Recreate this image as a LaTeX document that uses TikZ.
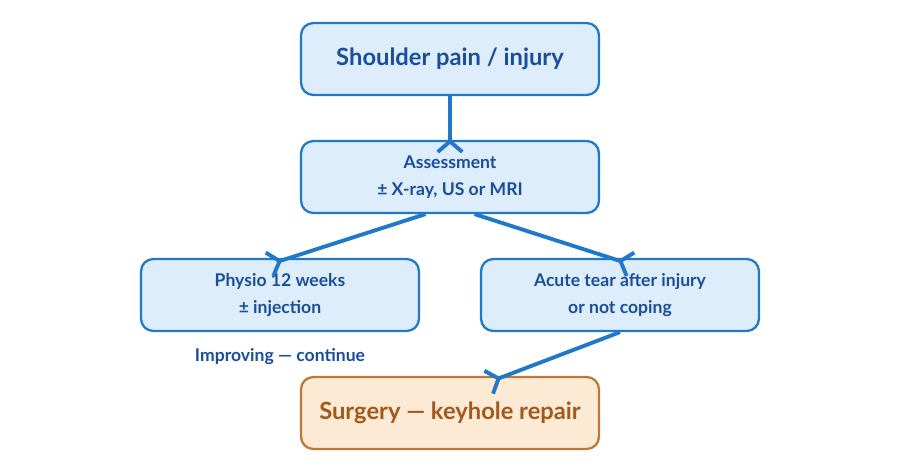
\documentclass[tikz,border=0pt]{standalone}
\usepackage{fontspec}
\setmainfont{Lato}
\usetikzlibrary{arrows.meta}
\definecolor{boxfill}{HTML}{DDEDFC}
\definecolor{boxline}{HTML}{1F78C8}
\definecolor{boxtext}{HTML}{1A4E9A}
\definecolor{opfill}{HTML}{FCEAD4}
\definecolor{opline}{HTML}{BB7A3A}
\definecolor{optext}{HTML}{A2591E}
\begin{document}
\begin{tikzpicture}[x=0.02cm, y=-0.02cm,
  stage/.style={draw=boxline, fill=boxfill, line width=1.3pt, rounded corners=7pt,
    text=boxtext, font=\bfseries\fontsize{10}{15.5}\selectfont, align=center,
    minimum height=1.44cm, inner sep=0pt},
  op/.style={stage, draw=opline, fill=opfill, text=optext, font=\bfseries\fontsize{13.5}{16}\selectfont},
  link/.style={draw=boxline, line width=2.2pt, -{Straight Barb[reversed, length=6pt, width=14pt]}}]
  \useasboundingbox (0,0) rectangle (900,470);
  \node[stage, minimum width=5.96cm, font=\bfseries\fontsize{13.5}{16}\selectfont] (pain) at (450,59) {Shoulder pain / injury};
  \node[stage, minimum width=5.96cm] (assess) at (450,177) {Assessment\\± X-ray, US or MRI};
  \node[stage, minimum width=5.56cm] (physio) at (280,295) {Physio 12 weeks\\± injection};
  \node[stage, minimum width=5.56cm] (tear) at (620,295) {Acute tear after injury\\or not coping};
  \node[op, minimum width=5.96cm] (surgery) at (450,413) {Surgery — keyhole repair};
  \node[text=boxtext, font=\bfseries\fontsize{10}{12}\selectfont] (improve) at (280,357) {Improving — continue};

  \draw[link] (pain.south) -- ([yshift=-8pt]assess.north);
  \draw[link] ([xshift=-14pt]assess.south) -- ([xshift=-7pt, yshift=-4pt]physio.north);
  \draw[link] ([xshift=14pt]assess.south) -- ([xshift=7pt, yshift=-4pt]tear.north);
  \draw[link] (tear.south) -- ([xshift=21pt, yshift=-4pt]surgery.north);
\end{tikzpicture}
\end{document}
